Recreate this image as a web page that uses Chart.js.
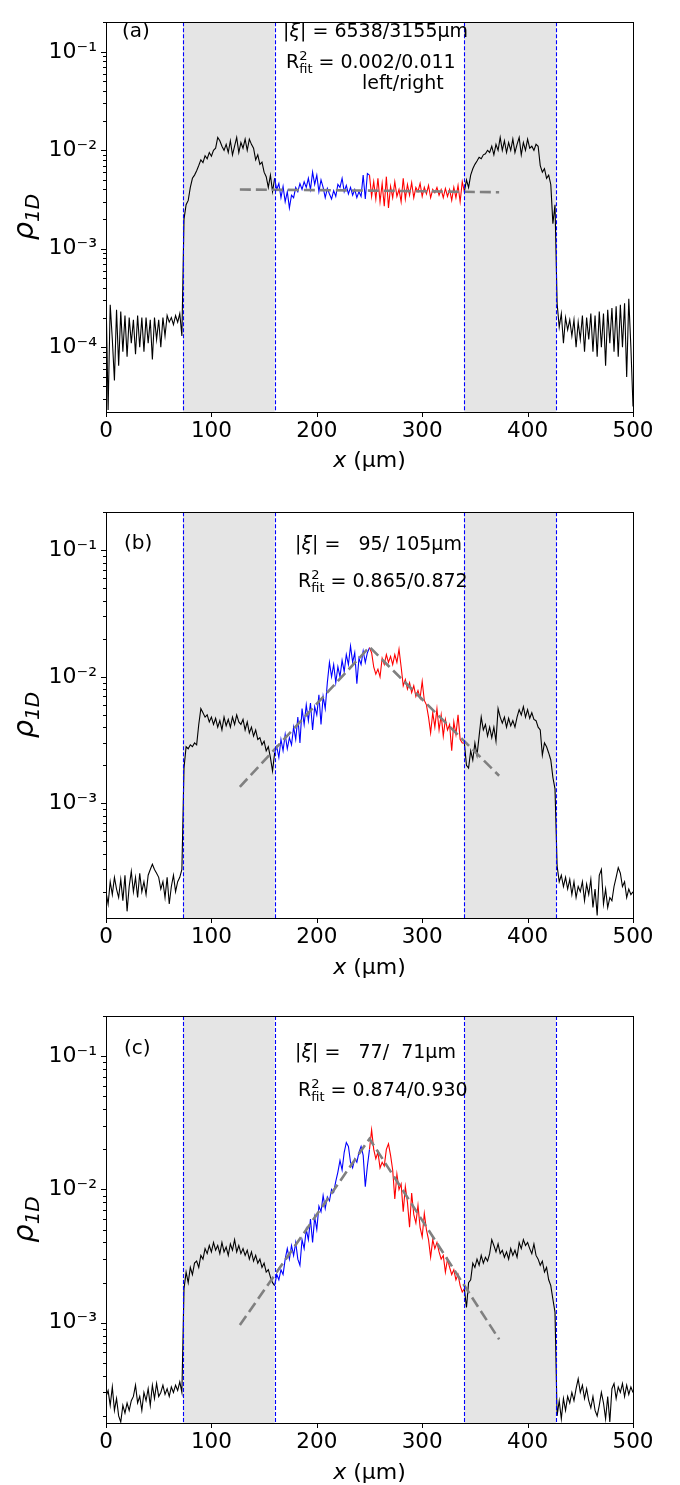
<!DOCTYPE html>
<html><head><meta charset="utf-8">
<script src="https://cdn.jsdelivr.net/npm/chart.js@4.4.1/dist/chart.umd.min.js"></script>
<style>
body{margin:0;background:#fff;width:680px;height:1485px;overflow:hidden;position:relative}
canvas{position:absolute;left:0}
</style></head><body>
<canvas id="ca" width="680" height="490" style="top:0"></canvas>
<canvas id="cb" width="680" height="500" style="top:490px"></canvas>
<canvas id="cc" width="680" height="495" style="top:990px"></canvas>
<script>
// ---------- data ----------
const X_TICKS = [0,100,200,300,400,500];
const X_MIN = 0, X_MAX = 500;
const X_STEP = 2;                       // µm between samples
const CHUNK_START = [0,74,160,250,340,428]; // x of first sample of each chunk
const UNIT = 1e-5;                       // values stored in units of 1e-5
const SHADE = [[73,160],[340,427]];
const VLINES = [73,160,340,427];
const BLUE_RANGE = [160,250], RED_RANGE = [250,340];
const FIT_X = [127,250,373];
const FIT_A = [4.0e-3,3.9e-3,3.75e-3];
const FIT_B = [1.35e-3,1.72e-2,1.65e-3];
const FIT_C = [9.6e-4,2.4e-2,7.5e-4];
const Y_RANGE_A = [2.2e-5,0.2], Y_RANGE_B = [1.24e-4,0.2], Y_RANGE_C = [1.77e-4,0.2];
const Y_TICKS_A = [1e-4,1e-3,1e-2,1e-1], Y_TICKS_B = [1e-3,1e-2,1e-1], Y_TICKS_C = [1e-3,1e-2,1e-1];
const TAGS = ['(a)','(b)','(c)'];
const XI_VALS = ['6538/3155','  95/ 105','  77/  71'];
const R2_VALS = ['0.002/0.011','0.865/0.872','0.874/0.930'];

// panel (a)
const A_OUT_L = [35,2.3,27,12,4.6,24,6.5,23,9,21,8,20,11,19,8.5,21,10,20,9,20,11,19,7.5,20,12,19,10,20,13,21,18,20,17,21,18,22,13];
const A_SH_L  = [200,280,310,420,520,560,620,700,800,750,880,820,950,870,1000,1050,1350,1250,1100,1000,1150,950,1250,900,1100,1350,950,1200,1050,1300,1000,1300,1150,1050,800,900,720,760,600,540,420,560,380];
const A_BLUE  = [520,400,460,330,430,300,380,260,350,330,420,380,460,400,480,420,520,400,600,450,560,380,500,420,330,410,360,320,390,340,450,420,520,380,440,360,420,350,400,330,380,340,560,320,580];
const A_RED   = [560,340,480,320,520,300,460,270,540,260,430,330,480,340,400,300,520,320,450,350,470,330,420,380,460,340,420,360,440,330,400,370,420,350,400,330,410,340,400,310,420,330,440,300,480];
const A_SH_R  = [380,500,420,560,650,720,780,850,820,900,920,1000,950,1100,900,1150,1000,1350,1000,1250,950,1200,1000,1300,950,1150,1350,900,1200,1000,1300,1050,1100,1000,1150,1100,700,600,650,520,560,450,180,280];
const A_OUT_R = [28,16,22,11,20,15,19,13,19,10,18,12,21,9,20,12,22,9,21,8,23,10,22,6.5,24,11,25,9,26,8,27,10,28,5,31,10,2.5];
// panel (b)
const B_OUT_L = [20,16,24,19,26,21,18,25,17,27,14,22,29,20,26,18,28,20,24,19,27,30,33,30,28,26,21,24,18,26,16,22,27,20,24,26,30];
const B_SH_L  = [190,280,270,290,280,300,290,420,560,520,480,500,440,480,420,470,400,450,380,480,410,460,400,480,420,500,440,420,460,380,440,360,400,340,380,320,330,290,310,260,280,230,180];
const B_BLUE  = [250,280,230,320,260,350,270,330,290,400,320,480,300,560,420,600,450,620,380,580,500,720,420,700,560,900,1300,1000,1250,900,1200,1000,1350,1100,1500,1250,1750,1300,1550,880,1400,1250,1600,1300,1550];
const B_RED   = [1700,1550,1200,1050,1150,1000,1400,1250,1500,1300,1450,1250,1500,1300,1650,1200,850,950,800,900,750,850,700,780,680,920,650,600,480,360,520,400,560,380,500,340,460,380,420,260,440,350,500,320,300];
const B_SH_R  = [300,200,190,260,220,300,240,340,480,380,420,340,400,330,400,310,560,480,430,480,400,470,410,450,400,480,550,500,580,480,550,470,520,460,450,400,380,240,300,280,250,220,160,130];
const B_OUT_R = [32,24,27,22,26,21,25,19,24,18,22,20,24,17,23,19,25,15,21,13,27,30,16,21,15,18,17,22,26,31,28,22,24,18,21,19,20];
// panel (c)
const C_OUT_L = [28,31,24,33,22,27,20,18,24,21,25,22,26,28,34,25,28,22,30,26,32,24,34,27,35,28,30,34,29,32,28,33,30,34,31,36,30];
const C_SH_L  = [180,240,200,260,230,280,290,260,320,300,360,330,380,340,400,350,380,330,400,340,370,320,390,350,420,340,380,330,360,320,350,300,340,290,320,280,300,260,280,240,250,220,200];
const C_BLUE  = [190,230,210,250,230,300,360,300,380,320,400,300,270,420,360,500,420,600,400,620,500,750,680,900,720,880,820,1000,950,1150,1350,1650,1400,1900,2250,2100,1600,1450,1700,1600,1900,2100,1800,1050,1500];
const C_RED   = [2000,2800,2000,1700,1900,1450,1600,1500,2000,2200,1800,1400,850,1300,1000,1100,680,1050,800,520,940,650,560,760,520,440,660,500,420,310,420,360,400,340,300,320,240,300,260,230,250,210,230,190,170];
const C_SH_R  = [180,130,200,210,280,260,300,270,320,280,310,290,330,420,380,340,390,330,350,310,340,300,360,320,350,310,400,360,420,380,400,360,330,390,320,300,270,290,240,260,210,190,150,120];
const C_OUT_R = [20,26,19,27,22,28,25,30,26,32,38,30,34,27,32,26,23,28,22,20,24,30,25,19,28,18,32,35,27,33,30,35,28,34,29,33,30];

// ---------- helpers ----------
const FONT = "'DejaVu Sans', sans-serif";
const SUP = {'-':'\u207B','0':'\u2070','1':'\u00B9','2':'\u00B2','3':'\u00B3','4':'\u2074','5':'\u2075','6':'\u2076','7':'\u2077','8':'\u2078','9':'\u2079'};
function sup(n){ return String(n).split('').map(c=>SUP[c]).join(''); }

function buildPoints(chunks){
  const pts = [];
  chunks.forEach((c,k)=>c.forEach((v,i)=>pts.push({x:CHUNK_START[k]+X_STEP*i, y:v*UNIT})));
  return pts;
}
function segColor(x){
  if (x>=BLUE_RANGE[0] && x<BLUE_RANGE[1]) return '#0000ff';
  if (x>=RED_RANGE[0] && x<RED_RANGE[1]) return '#ff0000';
  return '#000000';
}
function fontStr(r){ return (r.it?'italic ':'')+r.s+'px '+FONT; }
function runsWidth(ctx, runs){
  let w=0;
  for (const r of runs){ ctx.font=fontStr(r); if(!r.hold) w+=ctx.measureText(r.t).width; }
  return w;
}
function drawRuns(ctx, x, y, runs, align){
  let cx = x;
  if (align==='center') cx = x - runsWidth(ctx,runs)/2;
  ctx.textBaseline='alphabetic'; ctx.textAlign='left'; ctx.fillStyle='#000';
  for (const r of runs){
    ctx.font=fontStr(r);
    ctx.fillText(r.t, cx, y+(r.dy||0));
    if(!r.hold) cx += ctx.measureText(r.t).width;
  }
}

const decor = {
  id:'decor',
  beforeDatasetsDraw(chart){
    const {ctx, chartArea:a, scales:{x}} = chart;
    ctx.save(); ctx.fillStyle='#e5e5e5';
    for (const [l,r] of SHADE){
      const x0=x.getPixelForValue(l), x1=x.getPixelForValue(r);
      ctx.fillRect(x0,a.top,x1-x0,a.bottom-a.top);
    }
    ctx.restore();
  },
  afterDatasetsDraw(chart){
    const {ctx, chartArea:a, scales:{x}} = chart;
    ctx.save(); ctx.strokeStyle='#0000ff'; ctx.lineWidth=1.1; ctx.setLineDash([4,2]);
    for (const v of VLINES){
      const px=Math.round(x.getPixelForValue(v))+0.5;
      ctx.beginPath(); ctx.moveTo(px,a.top); ctx.lineTo(px,a.bottom); ctx.stroke();
    }
    ctx.restore();
  },
  afterDraw(chart, args, o){
    const {ctx, chartArea:a, scales:{x,y}} = chart;
    ctx.save();
    // frame
    ctx.strokeStyle='#000'; ctx.lineWidth=1;
    ctx.strokeRect(Math.round(a.left)+0.5, Math.round(a.top)+0.5, Math.round(a.right-a.left), Math.round(a.bottom-a.top));
    // x ticks
    ctx.beginPath();
    for (const v of X_TICKS){ const px=Math.round(x.getPixelForValue(v))+0.5; ctx.moveTo(px,a.bottom); ctx.lineTo(px,a.bottom+5); }
    // y ticks, major + minor
    const lo=Math.floor(Math.log10(y.min)), hi=Math.ceil(Math.log10(y.max));
    for (let e=lo;e<=hi;e++){
      for (let m=1;m<=9;m++){
        const v=m*Math.pow(10,e);
        if (v<y.min || v>y.max) continue;
        const py=Math.round(y.getPixelForValue(v))+0.5;
        ctx.moveTo(a.left,py); ctx.lineTo(a.left-(m===1?5:3),py);
      }
    }
    ctx.stroke();
    // annotations
    const S=19, s=13;
    drawRuns(ctx, o.tag[0], o.tag[1]+7, [{t:o.tagText,s:20}]);
    drawRuns(ctx, o.xi[0], o.xi[1]+7, [{t:'|',s:S},{t:'\u03BE',s:S,it:true},{t:'| = '+o.xiText+'\u00B5m',s:S}]);
    drawRuns(ctx, o.r2[0], o.r2[1]+7, [{t:'R',s:S},{t:'2',s:s,dy:-8,hold:true},{t:'fit',s:s,dy:5},{t:' = '+o.r2Text,s:S}]);
    if (o.note) drawRuns(ctx, o.note[0], o.note[1]+7, [{t:o.noteText,s:S}]);
    // x title
    const cx=(a.left+a.right)/2;
    drawRuns(ctx, cx, o.xTitle+7, [{t:'x',s:22,it:true},{t:' (\u00B5m)',s:22}], 'center');
    // y title (rotated)
    ctx.translate(28,(a.top+a.bottom)/2); ctx.rotate(-Math.PI/2);
    drawRuns(ctx, 0, 5, [{t:'\u03C1',s:29,it:true},{t:'1D',s:20,it:true,dy:6}], 'center');
    ctx.restore();
  }
};

const PANELS = [
  {id:'ca', h:490, top:3, bottom:412, yr:Y_RANGE_A, yt:Y_TICKS_A, fit:FIT_A,
   chunks:[A_OUT_L,A_SH_L,A_BLUE,A_RED,A_SH_R,A_OUT_R], k:0,
   pos:{tag:[122,30], xi:[283,30], r2:[286,61], note:[362,82], xTitle:460}, note:'left/right'},
  {id:'cb', h:500, top:20, bottom:428, yr:Y_RANGE_B, yt:Y_TICKS_B, fit:FIT_B,
   chunks:[B_OUT_L,B_SH_L,B_BLUE,B_RED,B_SH_R,B_OUT_R], k:1,
   pos:{tag:[124,52], xi:[295,53], r2:[298,90], xTitle:477}},
  {id:'cc', h:495, top:26, bottom:433, yr:Y_RANGE_C, yt:Y_TICKS_C, fit:FIT_C,
   chunks:[C_OUT_L,C_SH_L,C_BLUE,C_RED,C_SH_R,C_OUT_R], k:2,
   pos:{tag:[124,57], xi:[295,61], r2:[298,99], xTitle:482}}
];

for (const p of PANELS){
  const fitPts = FIT_X.map((xv,i)=>({x:xv,y:p.fit[i]}));
  new Chart(document.getElementById(p.id), {
    type:'line',
    data:{datasets:[
      {data:fitPts, borderColor:'#808080', borderWidth:2.6, borderDash:[11,5], pointRadius:0, fill:false, tension:0},
      {data:buildPoints(p.chunks), borderWidth:1.1, pointRadius:0, fill:false, tension:0,
       borderColor:'#000', segment:{borderColor:c=>segColor(c.p0.parsed.x)}}
    ]},
    options:{
      responsive:false, animation:false, devicePixelRatio:1,
      layout:{padding:{left:0,right:47,top:p.top,bottom:0}},
      plugins:{legend:{display:false}, tooltip:{enabled:false},
        decor:{tag:p.pos.tag, tagText:TAGS[p.k], xi:p.pos.xi, xiText:XI_VALS[p.k], r2:p.pos.r2, r2Text:R2_VALS[p.k],
               note:p.pos.note, noteText:p.note, xTitle:p.pos.xTitle}},
      scales:{
        x:{type:'linear', min:X_MIN, max:X_MAX,
           afterBuildTicks:s=>{ s.ticks = X_TICKS.map(v=>({value:v})); },
           ticks:{font:{size:21.5,family:FONT}, color:'#000', padding:7, maxRotation:0, autoSkip:false},
           grid:{display:false, drawTicks:false}, border:{display:false},
           afterFit:s=>{ s.height = p.h - p.bottom; }},
        y:{type:'logarithmic', min:p.yr[0], max:p.yr[1],
           afterBuildTicks:s=>{ s.ticks = p.yt.map(v=>({value:v})); },
           ticks:{font:{size:22,family:FONT}, color:'#000', padding:9, autoSkip:false,
                  callback:v=>'10'+sup(Math.round(Math.log10(v)))},
           grid:{display:false, drawTicks:false}, border:{display:false},
           afterFit:s=>{ s.width = 106; }}
      }
    },
    plugins:[decor]
  });
}
</script>
</body></html>
